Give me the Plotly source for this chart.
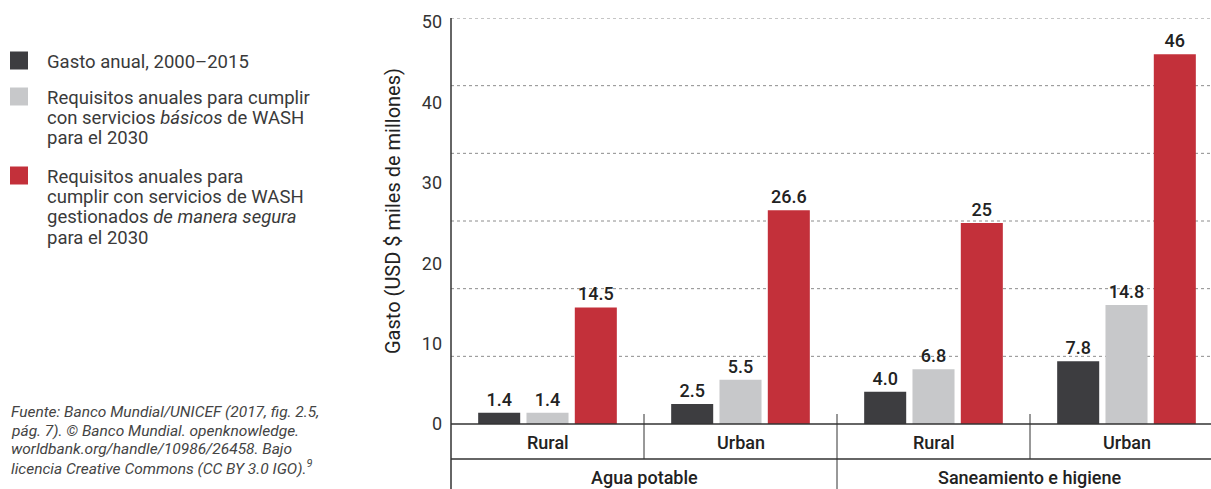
import plotly.graph_objects as go

# ---- data ----
subgroups = ["Rural", "Urban", "Rural", "Urban"]
groups = ["Agua potable", "Saneamiento e higiene"]
gasto_anual = [1.4, 2.5, 4.0, 7.8]
req_basicos = [1.4, 5.5, 6.8, 14.8]
req_seguros = [14.5, 26.6, 25.0, 46.0]
lbl_gasto = ["1.4", "2.5", "4.0", "7.8"]
lbl_basicos = ["1.4", "5.5", "6.8", "14.8"]
lbl_seguros = ["14.5", "26.6", "25", "46"]
y_ticks = [0, 10, 20, 30, 40, 50]

series_names = [
    ["Gasto anual, 2000–2015"],
    ["Requisitos anuales para cumplir", "con servicios <i>básicos</i> de WASH", "para el 2030"],
    ["Requisitos anuales para", "cumplir con servicios de WASH",
     "gestionados <i>de manera segura</i>", "para el 2030"],
]
source_lines = [
    "Fuente: Banco Mundial/UNICEF (2017, fig. 2.5,",
    "pág. 7). © Banco Mundial. openknowledge.",
    "worldbank.org/handle/10986/26458. Bajo",
    "licencia Creative Commons (CC BY 3.0 IGO).<sup>9</sup>",
]

# ---- styling ----
FONT = "Roboto"
C_DARK = "#3d3d40"
C_LIGHT = "#c7c8ca"
C_RED = "#c3303a"
TXT = "#333333"

W, H = 1211, 489
L, T = 451, 18          # plot area left / top (px)
BOTTOM = 424            # y pixel of zero line
PW = W - L
PH = BOTTOM - T
Y_MAX = 50.5
GROUP_PX = 193          # width of one subgroup slot
X_MAX = PW / GROUP_PX


def px(x):
    return (x - L) / PW


def py(y):
    return (BOTTOM - y) / PH


xpos = [i + 0.5 for i in range(len(subgroups))]

fig = go.Figure()
for vals, labels, color in [
    (gasto_anual, lbl_gasto, C_DARK),
    (req_basicos, lbl_basicos, C_LIGHT),
    (req_seguros, lbl_seguros, C_RED),
]:
    fig.add_trace(go.Bar(
        x=xpos, y=vals, text=labels, textposition="outside",
        marker=dict(color=color, line=dict(width=0)),
        textfont=dict(family=FONT, size=18, color="#222222", weight=500),
        cliponaxis=False, showlegend=False,
    ))

shapes = []
# dashed horizontal grid
grid_step = Y_MAX / 6
for k in range(1, 7):
    shapes.append(dict(type="line", xref="paper", yref="y", x0=0, x1=1,
                       y0=k * grid_step, y1=k * grid_step,
                       line=dict(color="#8c8c8c", width=1, dash="3px,3px"), layer="below"))
# axis frame lines
line_c = "#333333"
shapes.append(dict(type="line", xref="paper", yref="paper", x0=0, x1=0,
                   y0=py(H), y1=1, line=dict(color=line_c, width=1.5)))
shapes.append(dict(type="line", xref="paper", yref="paper", x0=0, x1=1,
                   y0=0, y1=0, line=dict(color=line_c, width=1.5)))
shapes.append(dict(type="line", xref="paper", yref="paper", x0=0, x1=1,
                   y0=py(459), y1=py(459), line=dict(color=line_c, width=1.5)))
# subgroup separators
for b in [1, 3]:
    shapes.append(dict(type="line", xref="x", yref="paper", x0=b, x1=b,
                       y0=py(459), y1=py(414), line=dict(color=line_c, width=1)))
shapes.append(dict(type="line", xref="x", yref="paper", x0=2, x1=2,
                   y0=py(H), y1=py(414), line=dict(color=line_c, width=1)))

annotations = []
cat_font = dict(family=FONT, size=18, color="#222222", weight=500)
for x, s in zip(xpos, subgroups):
    annotations.append(dict(x=x, y=py(442), xref="x", yref="paper", text=s,
                            xanchor="center", yanchor="middle",
                            showarrow=False, font=cat_font))
for i, g in enumerate(groups):
    annotations.append(dict(x=2 * i + 1, y=py(477), xref="x", yref="paper", text=g,
                            xanchor="center", yanchor="middle",
                            showarrow=False, font=cat_font))

# axis title
annotations.append(dict(x=px(393), y=py(211), xref="paper", yref="paper",
                        xanchor="center", yanchor="middle",
                        text="Gasto (USD $ miles de millones)", textangle=-90, showarrow=False,
                        font=dict(family=FONT, size=20, color="#222222")))

# legend built from swatches and text lines
legend_first_line = [62, 98, 177]
LINE_STEP = 20.2
for first_y, lines, color in zip(legend_first_line, series_names, [C_DARK, C_LIGHT, C_RED]):
    sq_c = first_y - 1.5
    shapes.append(dict(type="rect", xref="paper", yref="paper",
                       x0=px(10), x1=px(28), y0=py(sq_c + 9), y1=py(sq_c - 9),
                       fillcolor=color, line=dict(width=0)))
    for j, line in enumerate(lines):
        annotations.append(dict(x=px(45), y=py(first_y + j * LINE_STEP), xref="paper", yref="paper",
                                text=line, showarrow=False, xanchor="left", yanchor="middle",
                                font=dict(family=FONT, size=18.5, color="#3a3a3a")))

# source note
for j, line in enumerate(source_lines):
    annotations.append(dict(
        x=px(9), y=py(412 + j * 18.6), xref="paper", yref="paper",
        xanchor="left", yanchor="middle", showarrow=False,
        text=f"<i>{line}</i>",
        font=dict(family=FONT, size=15.5, color="#444444")))

fig.update_layout(
    width=W, height=H,
    margin=dict(l=L, r=0, t=T, b=H - BOTTOM, autoexpand=False),
    plot_bgcolor="white", paper_bgcolor="white",
    barmode="group", bargap=0.249, bargroupgap=0.13,
    xaxis=dict(range=[0, X_MAX], showticklabels=False, showgrid=False,
               zeroline=False, showline=False, ticks=""),
    yaxis=dict(range=[0, Y_MAX], tickvals=y_ticks, showgrid=False, zeroline=False,
               showline=False, ticks="", ticklabelstandoff=8,
               tickfont=dict(family=FONT, size=18, color=TXT)),
    shapes=shapes, annotations=annotations,
    font=dict(family=FONT),
)

fig.write_html("out.html")
